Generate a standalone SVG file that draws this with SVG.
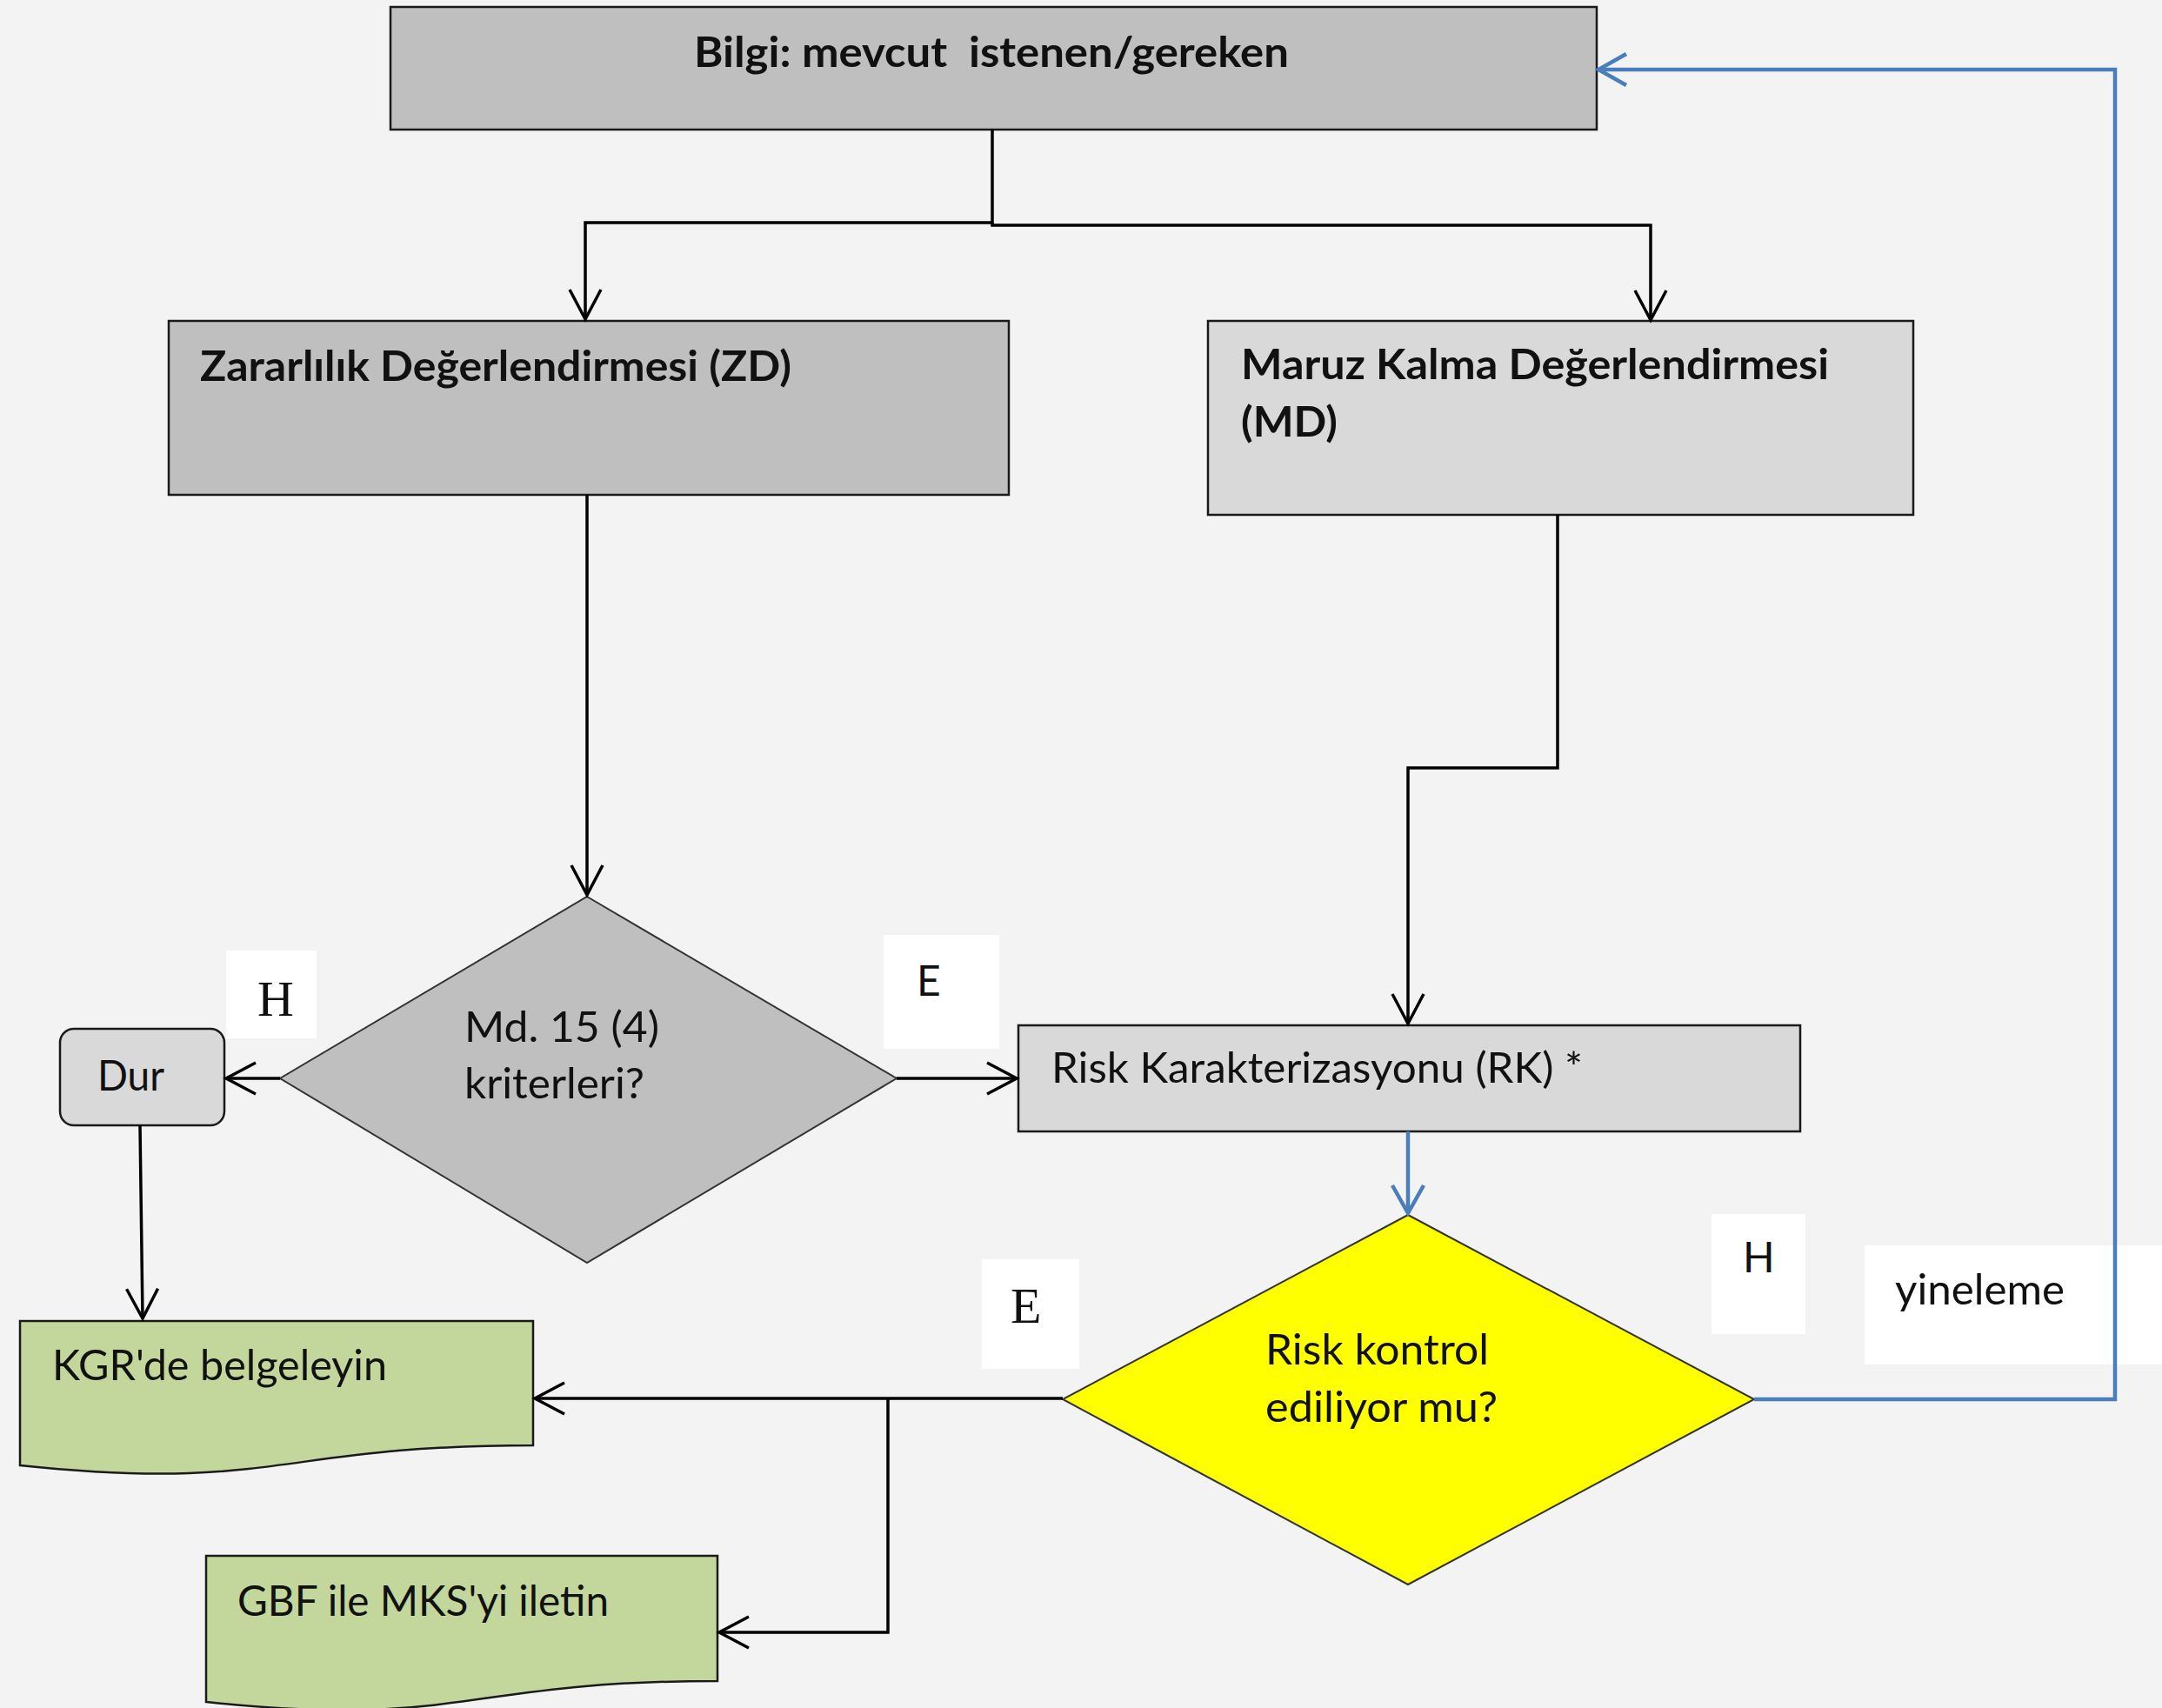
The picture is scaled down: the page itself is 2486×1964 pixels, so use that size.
<svg xmlns="http://www.w3.org/2000/svg" width="2486" height="1964" viewBox="0 0 2486 1964">
<style>
.bg{fill:#F3F3F3}
.box{stroke:#1a1a1a;stroke-width:2.5}
.dk{fill:#BFBFBF}
.lt{fill:#D9D9D9}
.gr{fill:#C3D69B}
.yl{fill:#FFFF00}
.dia{stroke:#333;stroke-width:2}
.lbl{fill:#FFFFFF;stroke:none}
.t{font-family:Lato,"Open Sans","Liberation Sans",sans-serif;font-size:48px;fill:#111}
.b{font-weight:bold}
.s{font-family:"Liberation Serif","DejaVu Serif",serif;font-size:58px;fill:#111}
.c{fill:none;stroke:#000;stroke-width:3.5}
.cb{fill:none;stroke:#4A7EBB;stroke-width:4.5}
</style>
<defs>
<marker id="ah" markerUnits="userSpaceOnUse" viewBox="-40 -25 50 50" markerWidth="50" markerHeight="50" refX="0" refY="0" orient="auto">
<path d="M-34,-18 L0,0 L-34,18" fill="none" stroke="#000" stroke-width="3.5"/>
</marker>
<marker id="ahb" markerUnits="userSpaceOnUse" viewBox="-40 -25 50 50" markerWidth="50" markerHeight="50" refX="0" refY="0" orient="auto">
<path d="M-32,-18 L0,0 L-32,18" fill="none" stroke="#4A7EBB" stroke-width="4.5"/>
</marker>
</defs>
<rect class="bg" x="0" y="0" width="2486" height="1964"/>

<g id="node-bilgi">
<rect class="box dk" x="449" y="8" width="1387" height="141"/>
<text class="t b" x="798" y="77" textLength="684" lengthAdjust="spacingAndGlyphs" xml:space="preserve">Bilgi: mevcut  istenen/gereken</text>
</g>

<g id="node-zd">
<rect class="box dk" x="194" y="369" width="966" height="200"/>
<text class="t b" x="230" y="438" textLength="680" lengthAdjust="spacingAndGlyphs">Zararlılık Değerlendirmesi (ZD)</text>
</g>

<g id="node-md">
<rect class="box lt" x="1389" y="369" width="811" height="223"/>
<text class="t b" x="1427" y="436" textLength="676" lengthAdjust="spacingAndGlyphs">Maruz Kalma Değerlendirmesi</text>
<text class="t b" x="1427" y="502" textLength="111" lengthAdjust="spacingAndGlyphs">(MD)</text>
</g>

<g id="node-md15">
<polygon class="dia dk" points="675,1031 1031,1240 675,1452 322,1240"/>
<text class="t" x="534" y="1198" textLength="224" lengthAdjust="spacingAndGlyphs">Md. 15 (4)</text>
<text class="t" x="534" y="1263" textLength="207" lengthAdjust="spacingAndGlyphs">kriterleri?</text>
</g>

<g id="node-dur">
<rect class="box lt" x="69" y="1183" width="189" height="111" rx="16" ry="16"/>
<text class="t" x="112" y="1254" textLength="77" lengthAdjust="spacingAndGlyphs">Dur</text>
</g>

<g id="node-rk">
<rect class="box lt" x="1171" y="1179" width="899" height="122"/>
<text class="t" x="1209" y="1245" textLength="611" lengthAdjust="spacingAndGlyphs">Risk Karakterizasyonu (RK) *</text>
</g>

<g id="node-riskkontrol">
<polygon class="dia yl" points="1619,1397 2017,1609 1619,1822 1222,1609"/>
<text class="t" x="1455" y="1569" textLength="257" lengthAdjust="spacingAndGlyphs">Risk kontrol</text>
<text class="t" x="1455" y="1635" textLength="267" lengthAdjust="spacingAndGlyphs">ediliyor mu?</text>
</g>

<g id="node-kgr">
<path class="box gr" d="M23,1519 H613 V1662 C318,1662 318,1716 23,1685 Z"/>
<text class="t" x="60" y="1587" textLength="385" lengthAdjust="spacingAndGlyphs">KGR'de belgeleyin</text>
</g>

<g id="node-gbf">
<path class="box gr" d="M237,1789 H825 V1933 C531,1933 531,1988 237,1957 Z"/>
<text class="t" x="273" y="1858" textLength="427" lengthAdjust="spacingAndGlyphs">GBF ile MKS'yi iletin</text>
</g>

<g id="label-h1">
<rect class="lbl" x="260" y="1093" width="104" height="101"/>
<text class="s" x="296" y="1168">H</text>
</g>
<g id="label-e1">
<rect class="lbl" x="1016" y="1075" width="133" height="131"/>
<text class="t" x="1054" y="1145">E</text>
</g>
<g id="label-e2">
<rect class="lbl" x="1129" y="1448" width="112" height="126"/>
<text class="s" x="1162" y="1521">E</text>
</g>
<g id="label-h2">
<rect class="lbl" x="1968" y="1396" width="108" height="138"/>
<text class="t" x="2004" y="1463">H</text>
</g>
<g id="label-yineleme">
<rect class="lbl" x="2144" y="1432" width="342" height="137"/>
<text class="t" x="2179" y="1500" textLength="195" lengthAdjust="spacingAndGlyphs">yineleme</text>
</g>

<g id="connectors">
<path class="c" d="M1141,149 V256 H673 V367" marker-end="url(#ah)"/>
<path class="c" d="M1141,256 V259 H1898 V368" marker-end="url(#ah)"/>
<path class="c" d="M675,569 L675,1029" marker-end="url(#ah)"/>
<path class="c" d="M1791,592 V883 H1619 V1177" marker-end="url(#ah)"/>
<path class="c" d="M322,1240 H260" marker-end="url(#ah)"/>
<path class="c" d="M1031,1240 H1169" marker-end="url(#ah)"/>
<path class="c" d="M161,1294 L164,1516" marker-end="url(#ah)"/>
<path class="cb" d="M1619,1301 V1395" marker-end="url(#ahb)"/>
<path class="c" d="M1222,1608 H615" marker-end="url(#ah)"/>
<path class="c" d="M1021,1608 V1877 H827" marker-end="url(#ah)"/>
<path class="cb" d="M2017,1609 H2432 V80 H1838" marker-end="url(#ahb)"/>
</g>
</svg>
